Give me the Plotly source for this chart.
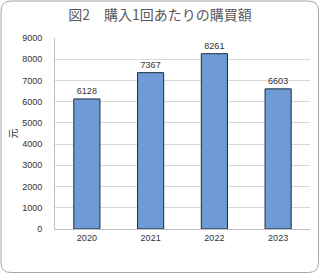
import plotly.graph_objects as go

years = ["2020", "2021", "2022", "2023"]
values = [6128, 7367, 8261, 6603]
y_ticks = [0, 1000, 2000, 3000, 4000, 5000, 6000, 7000, 8000, 9000]

W, H = 320, 274
ML, MR, MT, MB = 55, 10, 38, 45
PW, PH = W - ML - MR, H - MT - MB

def px(x):
    return (x - ML) / PW

def py(y):
    return (H - MB - y) / PH

# rounded border path in paper coords
x0, x1, y0, y1, r = 1, 318.5, 1, 272.5, 10
path = (
    f"M {px(x0 + r)},{py(y0)} L {px(x1 - r)},{py(y0)} "
    f"Q {px(x1)},{py(y0)} {px(x1)},{py(y0 + r)} "
    f"L {px(x1)},{py(y1 - r)} Q {px(x1)},{py(y1)} {px(x1 - r)},{py(y1)} "
    f"L {px(x0 + r)},{py(y1)} Q {px(x0)},{py(y1)} {px(x0)},{py(y1 - r)} "
    f"L {px(x0)},{py(y0 + r)} Q {px(x0)},{py(y0)} {px(x0 + r)},{py(y0)} Z"
)

fig = go.Figure()
fig.add_trace(go.Bar(
    x=years, y=values,
    marker=dict(color="#6e9bd6", line=dict(color="#1c2a3a", width=1)),
    text=[str(v) for v in values], textposition="outside",
    textfont=dict(size=9, color="#333333", family="Liberation Sans, Arial"),
    cliponaxis=False, width=0.41,
))

fig.update_layout(
    width=W, height=H,
    margin=dict(l=ML, r=MR, t=MT, b=MB),
    paper_bgcolor="white", plot_bgcolor="white",
    font=dict(family="Noto Sans CJK JP, Liberation Sans", color="#333333"),
    title=dict(text="図2　購入1回あたりの購買額", x=0.5, xref="container", xanchor="center",
               y=1 - 15 / H, yanchor="middle",
               font=dict(size=14, color="#595959", family="Noto Sans CJK JP")),
    showlegend=False,
    shapes=[dict(type="path", xref="paper", yref="paper", path=path,
                 line=dict(color="#a6a6a6", width=1), fillcolor="rgba(0,0,0,0)", layer="below")],
    xaxis=dict(showgrid=False, showline=True, linecolor="#bfbfbf", linewidth=1,
               ticks="", tickfont=dict(size=9, color="#333333", family="Liberation Sans, Arial")),
    yaxis=dict(range=[0, 9000], tickvals=y_ticks, showgrid=True, gridcolor="#d9d9d9",
               showline=True, linecolor="#bfbfbf", linewidth=1, zeroline=False,
               ticks="", ticklabelstandoff=10,
               tickfont=dict(size=9, color="#333333", family="Liberation Sans, Arial"),
               title=dict(text="元", standoff=2, font=dict(size=10, color="#333333", family="Noto Sans CJK JP"))),
)

fig.write_html("out.html")
